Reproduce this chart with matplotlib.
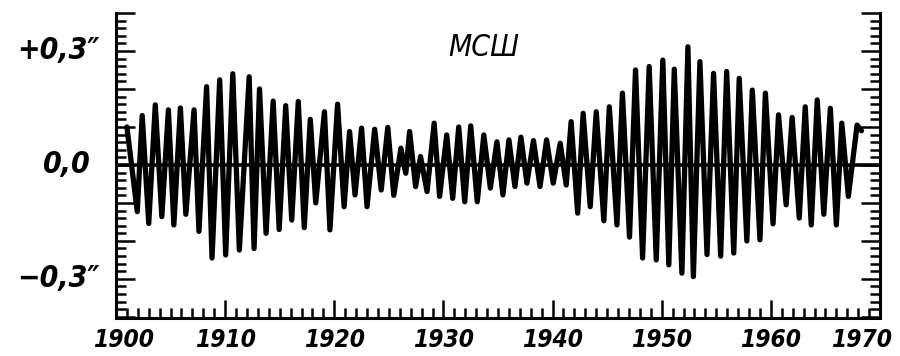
import numpy as np
import matplotlib.pyplot as plt
from matplotlib import font_manager
from matplotlib.ticker import MultipleLocator
from matplotlib.transforms import ScaledTranslation

# latitude service pole coordinate, arcseconds: turning points of the curve
start_year, start_val = 1901.0, 0.10
end_year, end_val = 1968.3, 0.09

peak_years = [1902.4, 1903.6, 1904.8, 1905.9, 1907.15, 1908.3, 1909.5, 1910.7,
              1912.2, 1913.15, 1914.4, 1915.55, 1916.7, 1917.8, 1919.1, 1920.3,
              1921.4, 1922.5, 1923.7, 1924.9, 1926.1, 1926.9, 1927.9, 1929.15,
              1930.3, 1931.4, 1932.5, 1933.7, 1934.9, 1936.0, 1937.1, 1938.25,
              1939.45, 1940.7, 1941.7, 1942.8, 1944.0, 1945.2, 1946.4, 1947.6,
              1948.85, 1950.1, 1951.15, 1952.4, 1953.5, 1954.75, 1955.95, 1957.1,
              1958.3, 1959.5, 1960.7, 1961.95, 1963.15, 1964.25, 1965.45, 1966.5,
              1967.9]
peak_vals = [0.13, 0.158, 0.145, 0.15, 0.145, 0.206, 0.224, 0.24,
             0.232, 0.20, 0.168, 0.156, 0.167, 0.12, 0.14, 0.16,
             0.088, 0.097, 0.094, 0.099, 0.044, 0.088, 0.022, 0.11,
             0.079, 0.10, 0.103, 0.079, 0.061, 0.066, 0.073, 0.064,
             0.066, 0.057, 0.114, 0.136, 0.14, 0.153, 0.189, 0.25,
             0.259, 0.276, 0.252, 0.311, 0.272, 0.241, 0.246, 0.228,
             0.197, 0.189, 0.132, 0.125, 0.153, 0.171, 0.149, 0.11,
             0.105]

trough_years = [1901.95, 1903.0, 1904.2, 1905.3, 1906.4, 1907.6, 1908.8, 1910.05,
                1911.3, 1912.65, 1913.75, 1914.95, 1916.1, 1917.25, 1918.3, 1919.6,
                1920.9, 1921.9, 1923.0, 1924.3, 1925.45, 1926.55, 1927.45, 1928.5,
                1929.65, 1930.85, 1931.95, 1933.1, 1934.3, 1935.45, 1936.55, 1937.65,
                1938.85, 1940.06, 1941.25, 1942.3, 1943.45, 1944.7, 1945.9, 1947.05,
                1948.25, 1949.5, 1950.65, 1951.85, 1952.9, 1954.15, 1955.4, 1956.6,
                1957.8, 1959.0, 1960.2, 1961.4, 1962.6, 1963.7, 1964.85, 1966.0,
                1967.1]
trough_vals = [-0.123, -0.154, -0.136, -0.158, -0.13, -0.175, -0.245, -0.237,
               -0.224, -0.22, -0.18, -0.17, -0.145, -0.165, -0.10, -0.171,
               -0.11, -0.079, -0.11, -0.066, -0.08, -0.022, -0.057, -0.07,
               -0.083, -0.088, -0.097, -0.097, -0.061, -0.079, -0.057, -0.048,
               -0.057, -0.048, -0.053, -0.127, -0.11, -0.147, -0.158, -0.19,
               -0.245, -0.25, -0.263, -0.285, -0.294, -0.236, -0.24, -0.232,
               -0.20, -0.197, -0.155, -0.105, -0.14, -0.158, -0.13, -0.158,
               -0.083]

year_ticks = [1900, 1910, 1920, 1930, 1940, 1950, 1960, 1970]
val_labels = {0.3: '+0,3\u2033', 0.0: '0,0', -0.3: '\u22120,3\u2033'}
title = 'МСШ'

t = np.concatenate([[start_year], peak_years, trough_years, [end_year]])
v = np.concatenate([[start_val], peak_vals, trough_vals, [end_val]])
order = np.argsort(t)
t, v = t[order], v[order]

names = {f.name for f in font_manager.fontManager.ttflist}
if 'Liberation Sans Narrow' in names:
    font = dict(family='Liberation Sans Narrow', style='italic')
    scale = 1.0
else:
    font = dict(family='DejaVu Sans', style='italic', stretch='condensed')
    scale = 0.8

fig = plt.figure(figsize=(9, 3.56), dpi=100)
ax = fig.add_axes([116 / 900, 38 / 356, 764 / 900, 305 / 356])

ax.plot(t, v, color='black', lw=3.8, solid_joinstyle='round', solid_capstyle='round')
ax.axhline(0, color='black', lw=2.6)

ax.set_xlim(1900, 1970)
ax.set_ylim(-0.403, 0.40)

for side in ('left', 'right', 'bottom'):
    ax.spines[side].set_linewidth(2.2)
ax.spines['top'].set_visible(False)

ax.xaxis.set_major_locator(MultipleLocator(10))
ax.xaxis.set_minor_locator(MultipleLocator(1))
ax.yaxis.set_major_locator(MultipleLocator(0.1))
ax.yaxis.set_minor_locator(MultipleLocator(0.02))
ax.tick_params(axis='both', which='both', direction='in', right=True, top=False,
               width=1.8, color='black')
ax.tick_params(axis='y', which='major', length=14)
ax.tick_params(axis='y', which='minor', length=7.5)
ax.tick_params(axis='x', which='major', length=13)
ax.tick_params(axis='x', which='minor', length=7)
ax.tick_params(axis='y', labelleft=False)

ax.set_xticks(year_ticks)
ax.set_xticklabels([str(y) for y in year_ticks], fontsize=22 * scale,
                   fontweight='bold', **font)
ax.tick_params(axis='x', pad=7)
labels = ax.get_xticklabels()
labels[0].set_transform(labels[0].get_transform()
                        + ScaledTranslation(0.08, 0, fig.dpi_scale_trans))
labels[-1].set_transform(labels[-1].get_transform()
                         + ScaledTranslation(-0.18, 0, fig.dpi_scale_trans))

ytrans = ax.get_yaxis_transform()
for val, text in val_labels.items():
    x = -0.021 if text.endswith('\u2033') else -0.034
    ax.text(x, val, text, transform=ytrans, ha='right', va='center',
            fontsize=27 * scale, fontweight='bold', **font)

ax.text(484 / 900, 1 - 47 / 356, title, transform=fig.transFigure, ha='center',
        va='center', fontsize=27 * scale, **font)

fig.savefig('out.png', dpi=100)
